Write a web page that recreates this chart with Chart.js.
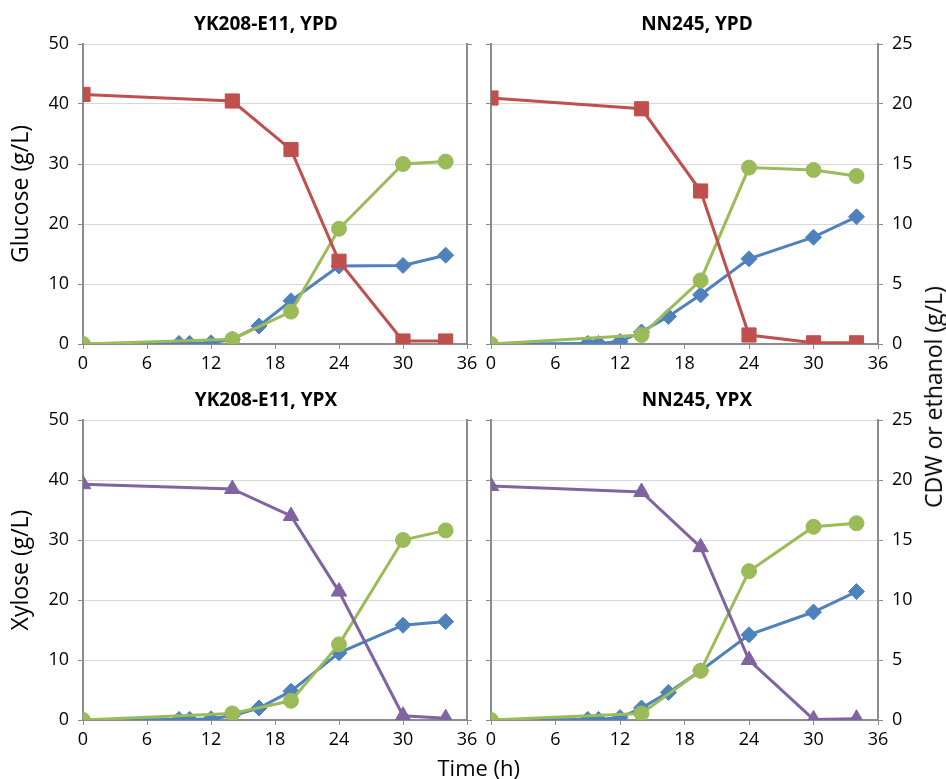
<!DOCTYPE html>
<html>
<head>
<meta charset="utf-8">
<script src="https://cdn.jsdelivr.net/npm/chart.js@4.4.1/dist/chart.umd.min.js"></script>
<style>
    body { margin: 0; background: #fff; }
    #wrap { position: relative; width: 946px; height: 779px; font-family: "Open Sans", sans-serif; }
    #wrap canvas { position: absolute; left: 0; top: 0; }
    .axisTitle { position: absolute; font-size: 22px; color: #000; white-space: nowrap; }
</style>
</head>
<body>
<div id="wrap">
    <canvas id="chartTL" width="946" height="779"></canvas>
    <canvas id="chartTR" width="946" height="779"></canvas>
    <canvas id="chartBL" width="946" height="779"></canvas>
    <canvas id="chartBR" width="946" height="779"></canvas>
    <div class="axisTitle" id="timeTitle">Time (h)</div>
    <div class="axisTitle" id="rightTitle">CDW or ethanol (g/L)</div>
</div>
<script>
// Sampling times (h)
const hoursCdw = [0, 9, 10, 12, 14, 16.5, 19.5, 24, 30, 34];
const hoursMain = [0, 14, 19.5, 24, 30, 34];
const xTicks = [0, 6, 12, 18, 24, 30, 36];

// YK208-E11, YPD
const glucoseYK = [41.6, 40.5, 32.4, 13.8, 0.5, 0.5];
const cdwYKGlc = [0, 0.05, 0.05, 0.1, 0.4, 1.5, 3.6, 6.5, 6.55, 7.4];
const ethanolYKGlc = [0, 0.4, 2.7, 9.6, 15.0, 15.2];

// NN245, YPD
const glucoseNN = [41.0, 39.2, 25.5, 1.5, 0.2, 0.2];
const cdwNNGlc = [0, 0.05, 0.05, 0.2, 1.0, 2.3, 4.1, 7.1, 8.9, 10.6];
const ethanolNNGlc = [0, 0.75, 5.3, 14.7, 14.5, 14.0];

// YK208-E11, YPX
const xyloseYK = [39.3, 38.5, 34.0, 21.4, 0.7, 0.3];
const cdwYKXyl = [0, 0.05, 0.05, 0.1, 0.35, 1.0, 2.4, 5.6, 7.9, 8.2];
const ethanolYKXyl = [0, 0.55, 1.6, 6.3, 15.0, 15.8];

// NN245, YPX
const xyloseNN = [39.0, 38.0, 28.8, 10.0, 0.1, 0.2];
const cdwNNXyl = [0, 0.05, 0.05, 0.2, 1.0, 2.3, 4.1, 7.1, 9.0, 10.7];
const ethanolNNXyl = [0, 0.55, 4.1, 12.4, 16.1, 16.4];

const BLUE = '#4f81bd';
const RED = '#c0504d';
const GREEN = '#9bbb59';
const PURPLE = '#8064a2';
const AXIS = '#8c8c8c';
const GRID = '#d8d8d8';

Chart.defaults.font.family = '"Open Sans", sans-serif';
Chart.defaults.color = '#000';

const panelTitle = {
    id: 'panelTitle',
    afterDraw(chart, args, o) {
        const ctx = chart.ctx;
        ctx.save();
        ctx.font = 'bold 19px "Open Sans", sans-serif';
        ctx.fillStyle = '#000';
        ctx.textAlign = 'center';
        ctx.textBaseline = 'middle';
        ctx.fillText(o.text, o.x, o.y);
        ctx.restore();
    }
};

function points(xs, ys) {
    return xs.map((x, i) => ({ x: x, y: ys[i] }));
}

function series(label, xs, ys, color, style, radius, axis) {
    return {
        label: label,
        data: points(xs, ys),
        yAxisID: axis,
        borderColor: color,
        backgroundColor: color,
        pointBackgroundColor: color,
        pointBorderColor: color,
        borderWidth: 3,
        pointStyle: style,
        pointRadius: radius,
        pointBorderWidth: 1,
        tension: 0
    };
}

function createPanel(id, p) {
    const ctx = document.getElementById(id).getContext('2d');
    const isLeft = p.side === 'left';
    const top = p.areaTop;
    const bottom = top + 300;

    return new Chart(ctx, {
        type: 'line',
        data: {
            datasets: [
                series(p.sugarLabel, hoursMain, p.sugar, p.sugarColor, p.sugarStyle, p.sugarRadius, 'y'),
                series('Ethanol', hoursMain, p.ethanol, GREEN, 'circle', 7.5, 'y1'),
                series('CDW', hoursCdw, p.cdw, BLUE, 'rectRot', 8, 'y1')
            ]
        },
        options: {
            responsive: false,
            animation: false,
            layout: {
                padding: {
                    top: top,
                    bottom: 779 - bottom - 36,
                    left: isLeft ? 0 : 481,
                    right: isLeft ? 469 : 0
                }
            },
            scales: {
                x: {
                    type: 'linear',
                    min: 0,
                    max: 36,
                    afterBuildTicks: s => { s.ticks = xTicks.map(v => ({ value: v })); },
                    ticks: { padding: 4, font: { size: 18 } },
                    grid: { drawOnChartArea: false, tickLength: 5, color: AXIS },
                    border: { color: AXIS, width: 2 },
                    afterFit: s => { s.height = 36; }
                },
                y: {
                    position: 'left',
                    min: 0,
                    max: 50,
                    ticks: { stepSize: 10, display: isLeft, padding: 9, font: { size: 18 } },
                    grid: { color: GRID, tickColor: AXIS, tickLength: 5 },
                    border: { color: AXIS, width: 2 },
                    title: {
                        display: isLeft,
                        text: p.yTitle || '',
                        font: { size: 23 },
                        padding: { top: 8, bottom: 0 }
                    },
                    afterFit: s => { s.width = isLeft ? 83 : 10; }
                },
                y1: {
                    position: 'right',
                    min: 0,
                    max: 25,
                    ticks: { stepSize: 5, display: !isLeft, padding: 9, font: { size: 18 } },
                    grid: { drawOnChartArea: false, tickColor: AXIS, tickLength: 5 },
                    border: { color: AXIS, width: 2 },
                    afterFit: s => { s.width = isLeft ? 10 : 68; }
                }
            },
            plugins: {
                legend: { display: false },
                tooltip: { enabled: false },
                panelTitle: { text: p.title, x: p.titleX, y: top - 19 }
            }
        },
        plugins: [panelTitle]
    });
}

createPanel('chartTL', {
    side: 'left', areaTop: 44, title: 'YK208-E11, YPD', titleX: 266,
    yTitle: 'Glucose (g/L)', sugarLabel: 'Glucose', sugar: glucoseYK,
    sugarColor: RED, sugarStyle: 'rect', sugarRadius: 10,
    cdw: cdwYKGlc, ethanol: ethanolYKGlc
});

createPanel('chartTR', {
    side: 'right', areaTop: 44, title: 'NN245, YPD', titleX: 697,
    sugarLabel: 'Glucose', sugar: glucoseNN,
    sugarColor: RED, sugarStyle: 'rect', sugarRadius: 10,
    cdw: cdwNNGlc, ethanol: ethanolNNGlc
});

createPanel('chartBL', {
    side: 'left', areaTop: 420, title: 'YK208-E11, YPX', titleX: 266,
    yTitle: 'Xylose (g/L)', sugarLabel: 'Xylose', sugar: xyloseYK,
    sugarColor: PURPLE, sugarStyle: 'triangle', sugarRadius: 9,
    cdw: cdwYKXyl, ethanol: ethanolYKXyl
});

createPanel('chartBR', {
    side: 'right', areaTop: 420, title: 'NN245, YPX', titleX: 697,
    sugarLabel: 'Xylose', sugar: xyloseNN,
    sugarColor: PURPLE, sugarStyle: 'triangle', sugarRadius: 9,
    cdw: cdwNNXyl, ethanol: ethanolNNXyl
});

// Shared axis titles
const timeTitle = document.getElementById('timeTitle');
timeTitle.style.left = (479 - timeTitle.offsetWidth / 2) + 'px';
timeTitle.style.top = (767 - timeTitle.offsetHeight / 2) + 'px';

const rightTitle = document.getElementById('rightTitle');
rightTitle.style.fontSize = '23px';
rightTitle.style.left = (933 - rightTitle.offsetWidth / 2) + 'px';
rightTitle.style.top = (397 - rightTitle.offsetHeight / 2) + 'px';
rightTitle.style.transform = 'rotate(-90deg)';
</script>
</body>
</html>
